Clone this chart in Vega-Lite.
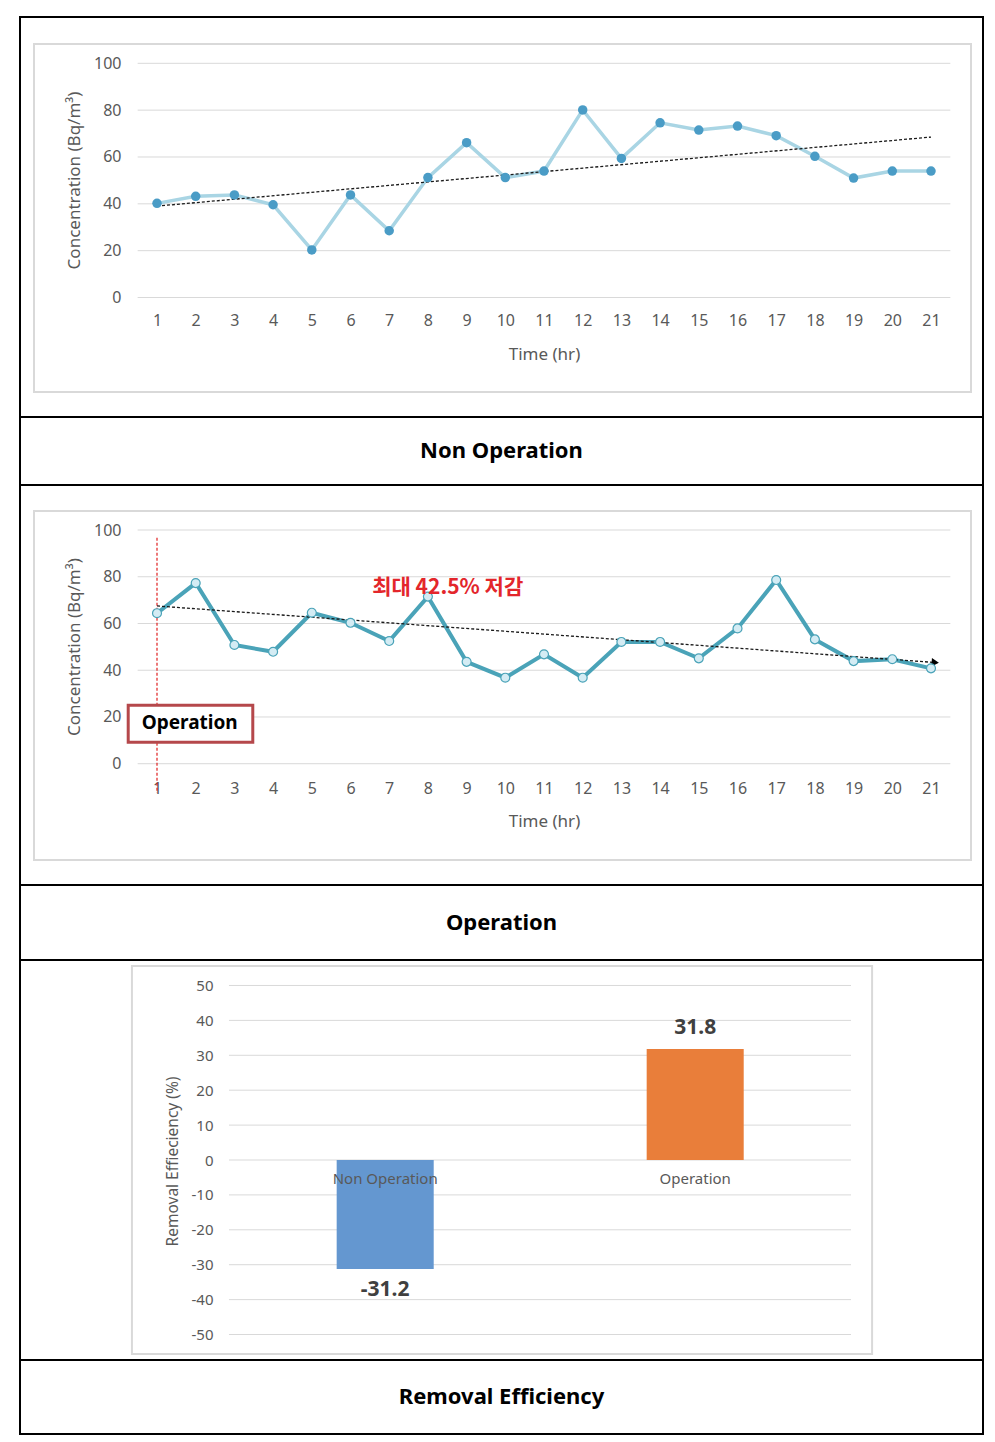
{
  "$schema": "https://vega.github.io/schema/vega-lite/v6.json",
  "padding": {"left": 19, "top": 16, "right": 13, "bottom": 9},
  "autosize": {"type": "pad"},
  "background": "white",
  "spacing": 0,
  "bounds": "flush",
  "config": {
    "view": {"stroke": "#000000", "strokeWidth": 2},
    "font": "Noto Sans",
    "concat": {"spacing": 0},
    "locale": {"number": {"decimal": ".", "thousands": ",", "grouping": [3], "currency": ["", ""], "minus": "-"}},
    "axis": {"labelFont": "Noto Sans", "titleFont": "Noto Sans", "labelColor": "#595959", "titleColor": "#595959", "titleFontWeight": "normal", "domain": false, "ticks": false, "grid": false, "labelOverlap": false}
  },
  "datasets": {
    "nonop": [
      {"hour": 1, "conc": 40.2}, {"hour": 2, "conc": 43.2}, {"hour": 3, "conc": 43.8}, {"hour": 4, "conc": 39.6},
      {"hour": 5, "conc": 20.3}, {"hour": 6, "conc": 43.8}, {"hour": 7, "conc": 28.5}, {"hour": 8, "conc": 51.2},
      {"hour": 9, "conc": 66.1}, {"hour": 10, "conc": 51.2}, {"hour": 11, "conc": 54.0}, {"hour": 12, "conc": 80.1},
      {"hour": 13, "conc": 59.4}, {"hour": 14, "conc": 74.6}, {"hour": 15, "conc": 71.5}, {"hour": 16, "conc": 73.2},
      {"hour": 17, "conc": 69.1}, {"hour": 18, "conc": 60.3}, {"hour": 19, "conc": 51.0}, {"hour": 20, "conc": 54.0},
      {"hour": 21, "conc": 54.0}
    ],
    "op": [
      {"hour": 1, "conc": 64.4}, {"hour": 2, "conc": 77.3}, {"hour": 3, "conc": 50.8}, {"hour": 4, "conc": 47.9},
      {"hour": 5, "conc": 64.6}, {"hour": 6, "conc": 60.3}, {"hour": 7, "conc": 52.5}, {"hour": 8, "conc": 71.5},
      {"hour": 9, "conc": 43.6}, {"hour": 10, "conc": 36.8}, {"hour": 11, "conc": 46.8}, {"hour": 12, "conc": 36.8},
      {"hour": 13, "conc": 52.1}, {"hour": 14, "conc": 52.1}, {"hour": 15, "conc": 45.1}, {"hour": 16, "conc": 57.9},
      {"hour": 17, "conc": 78.6}, {"hour": 18, "conc": 53.2}, {"hour": 19, "conc": 43.9}, {"hour": 20, "conc": 44.7},
      {"hour": 21, "conc": 40.8}
    ],
    "trend2": [{"hour": 1, "conc": 67.5}, {"hour": 21.11, "conc": 43.3}],
    "eff": [{"condition": "Non Operation", "eff": -31.2}, {"condition": "Operation", "eff": 31.8}],
    "grid100": [{"g": 0}, {"g": 20}, {"g": 40}, {"g": 60}, {"g": 80}, {"g": 100}],
    "grid50": [{"g": -50}, {"g": -40}, {"g": -30}, {"g": -20}, {"g": -10}, {"g": 0}, {"g": 10}, {"g": 20}, {"g": 30}, {"g": 40}, {"g": 50}]
  },
  "vconcat": [
    {
      "width": 963,
      "height": 400,
      "data": {"name": "nonop"},
      "layer": [
        {
          "data": {"values": [{}]},
          "mark": {"type": "rect", "filled": false, "stroke": "#d9d9d9", "strokeWidth": 2},
          "encoding": {
            "x": {"datum": -2.178, "type": "quantitative"},
            "x2": {"datum": 22.034},
            "y": {"datum": 108.24, "type": "quantitative"},
            "y2": {"datum": -40.35}
          }
        },
        {
          "data": {"name": "grid100"},
          "mark": {"type": "rule", "color": "#d9d9d9", "strokeWidth": 1},
          "encoding": {
            "y": {"field": "g", "type": "quantitative"},
            "x": {"datum": 0.5, "type": "quantitative"},
            "x2": {"datum": 21.5}
          }
        },
        {
          "mark": {"type": "line", "color": "#a9d5e4", "strokeWidth": 3.5},
          "encoding": {
            "x": {"field": "hour", "type": "quantitative",
              "scale": {"domain": [-2.5401, 22.3437], "nice": false, "zero": false},
              "axis": {"values": [1,2,3,4,5,6,7,8,9,10,11,12,13,14,15,16,17,18,19,20,21], "tickCount": 30, "format": "d", "labelFontSize": 16, "labelPadding": 15, "offset": -119.5, "labelOverlap": false, "labelFlush": false,
                "title": "Time (hr)", "titleFontSize": 17, "titleX": 524, "titleY": 57, "titleBaseline": "middle", "titleAlign": "center"}},
            "y": {"field": "conc", "type": "quantitative",
              "scale": {"domain": [-51.02, 119.77], "nice": false, "zero": false},
              "axis": {"values": [0, 20, 40, 60, 80, 100], "tickCount": 12, "labelFontSize": 16, "labelPadding": 3, "offset": -104, "labelOverlap": false,
                "title": "Concentration (Bq/m³)", "titleFontSize": 17, "titleX": -50, "titleY": 163, "titleBaseline": "middle", "titleAngle": -90, "titleAlign": "center"}}
          }
        },
        {
          "transform": [{"regression": "conc", "on": "hour", "extent": [1, 21]}],
          "mark": {"type": "line", "color": "#1a1a1a", "strokeWidth": 1.3, "strokeDash": [3, 2]},
          "encoding": {
            "x": {"field": "hour", "type": "quantitative"},
            "y": {"field": "conc", "type": "quantitative"}
          }
        },
        {
          "mark": {"type": "point", "filled": true, "color": "#4a9cc6", "size": 90, "opacity": 1},
          "encoding": {
            "x": {"field": "hour", "type": "quantitative"},
            "y": {"field": "conc", "type": "quantitative"}
          }
        }
      ]
    },
    {
      "width": 963,
      "height": 68,
      "data": {"values": [{"label": "Non Operation"}]},
      "mark": {"type": "text", "fontSize": 22, "fontWeight": "bold", "font": "Noto Sans", "color": "#000000", "align": "center", "baseline": "middle"},
      "encoding": {
        "text": {"field": "label"},
        "x": {"datum": 0.5, "type": "quantitative", "scale": {"domain": [0, 1]}, "axis": null},
        "y": {"datum": 0.5, "type": "quantitative", "scale": {"domain": [0, 1]}, "axis": null}
      }
    },
    {
      "width": 963,
      "height": 400,
      "data": {"name": "op"},
      "layer": [
        {
          "data": {"values": [{}]},
          "mark": {"type": "rect", "filled": false, "stroke": "#d9d9d9", "strokeWidth": 2},
          "encoding": {
            "x": {"datum": -2.178, "type": "quantitative"},
            "x2": {"datum": 22.034},
            "y": {"datum": 108.13, "type": "quantitative"},
            "y2": {"datum": -41.21}
          }
        },
        {
          "data": {"name": "grid100"},
          "mark": {"type": "rule", "color": "#d9d9d9", "strokeWidth": 1},
          "encoding": {
            "y": {"field": "g", "type": "quantitative"},
            "x": {"datum": 0.5, "type": "quantitative"},
            "x2": {"datum": 21.5}
          }
        },
        {
          "data": {"values": [{}]},
          "mark": {"type": "rule", "color": "#e02020", "strokeWidth": 1.2, "strokeDash": [3, 2]},
          "encoding": {
            "x": {"datum": 1, "type": "quantitative"},
            "y": {"datum": 96.7, "type": "quantitative"},
            "y2": {"datum": -12.5}
          }
        },
        {
          "mark": {"type": "line", "color": "#4aa3b8", "strokeWidth": 4},
          "encoding": {
            "x": {"field": "hour", "type": "quantitative",
              "scale": {"domain": [-2.5401, 22.3437], "nice": false, "zero": false},
              "axis": {"values": [1,2,3,4,5,6,7,8,9,10,11,12,13,14,15,16,17,18,19,20,21], "tickCount": 30, "format": "d", "labelFontSize": 16, "labelPadding": 17, "offset": -121.3, "labelOverlap": false, "labelFlush": false,
                "title": "Time (hr)", "titleFontSize": 17, "titleX": 524, "titleY": 58, "titleBaseline": "middle", "titleAlign": "center"}},
            "y": {"field": "conc", "type": "quantitative",
              "scale": {"domain": [-51.9, 119.26], "nice": false, "zero": false},
              "axis": {"values": [0, 20, 40, 60, 80, 100], "tickCount": 12, "labelFontSize": 16, "labelPadding": 3, "offset": -104, "labelOverlap": false,
                "title": "Concentration (Bq/m³)", "titleFontSize": 17, "titleX": -50, "titleY": 161.6, "titleBaseline": "middle", "titleAngle": -90, "titleAlign": "center"}}
          }
        },
        {
          "data": {"name": "trend2"},
          "mark": {"type": "line", "color": "#1a1a1a", "strokeWidth": 1.3, "strokeDash": [3, 2]},
          "encoding": {
            "x": {"field": "hour", "type": "quantitative"},
            "y": {"field": "conc", "type": "quantitative"}
          }
        },
        {
          "data": {"name": "trend2"},
          "transform": [{"filter": "datum.hour > 20"}],
          "mark": {"type": "point", "shape": "triangle-right", "filled": true, "color": "#000000", "size": 70, "angle": 4, "opacity": 1},
          "encoding": {
            "x": {"field": "hour", "type": "quantitative"},
            "y": {"field": "conc", "type": "quantitative"}
          }
        },
        {
          "mark": {"type": "point", "filled": true, "fill": "#d4ecf4", "stroke": "#4aa3b8", "strokeWidth": 1.2, "size": 80, "opacity": 1},
          "encoding": {
            "x": {"field": "hour", "type": "quantitative"},
            "y": {"field": "conc", "type": "quantitative"}
          }
        },
        {
          "data": {"values": [{}]},
          "mark": {"type": "rect", "fill": "#ffffff", "stroke": "#b5484b", "strokeWidth": 3},
          "encoding": {
            "x": {"datum": 0.256, "type": "quantitative"},
            "x2": {"datum": 3.475},
            "y": {"datum": 25.03, "type": "quantitative"},
            "y2": {"datum": 9.2}
          }
        },
        {
          "data": {"values": [{"label": "Operation"}]},
          "mark": {"type": "text", "fontSize": 19, "fontWeight": "bold", "font": "Noto Sans", "color": "#000000", "align": "center", "baseline": "middle"},
          "encoding": {
            "text": {"field": "label"},
            "x": {"datum": 1.845, "type": "quantitative"},
            "y": {"datum": 17.29, "type": "quantitative"}
          }
        },
        {
          "data": {"values": [{"label": "최대 42.5% 저감"}]},
          "mark": {"type": "text", "fontSize": 21, "fontWeight": "bold", "font": "Noto Sans CJK KR", "color": "#e3262b", "align": "center", "baseline": "middle"},
          "encoding": {
            "text": {"field": "label"},
            "x": {"datum": 8.512, "type": "quantitative"},
            "y": {"datum": 75.31, "type": "quantitative"}
          }
        }
      ]
    },
    {
      "width": 963,
      "height": 75,
      "data": {"values": [{"label": "Operation"}]},
      "mark": {"type": "text", "fontSize": 22, "fontWeight": "bold", "font": "Noto Sans", "color": "#000000", "align": "center", "baseline": "middle"},
      "encoding": {
        "text": {"field": "label"},
        "x": {"datum": 0.5, "type": "quantitative", "scale": {"domain": [0, 1]}, "axis": null},
        "y": {"datum": 0.5, "type": "quantitative", "scale": {"domain": [0, 1]}, "axis": null}
      }
    },
    {
      "width": 963,
      "height": 400,
      "data": {"name": "eff"},
      "layer": [
        {
          "data": {"values": [{}]},
          "mark": {"type": "rect", "filled": false, "stroke": "#d9d9d9", "strokeWidth": 2},
          "encoding": {
            "x": {"datum": "Non Operation", "type": "nominal", "bandPosition": -2.11},
            "x2": {"datum": "Operation", "bandPosition": 2.323},
            "y": {"datum": 55.6, "type": "quantitative"},
            "y2": {"datum": -55.6}
          }
        },
        {
          "data": {"name": "grid50"},
          "mark": {"type": "rule", "color": "#d9d9d9", "strokeWidth": 1},
          "encoding": {
            "y": {"field": "g", "type": "quantitative"},
            "x": {"datum": "Non Operation", "type": "nominal", "bandPosition": -1.11},
            "x2": {"datum": "Operation", "bandPosition": 2.106}
          }
        },
        {
          "mark": {"type": "bar"},
          "encoding": {
            "x": {"field": "condition", "type": "nominal",
              "scale": {"domain": ["Non Operation", "Operation"], "paddingInner": 0.687, "paddingOuter": 0.8967, "align": 0.5696},
              "axis": {"orient": "bottom", "offset": -200, "labelPadding": 18, "labelFontSize": 15, "labelAngle": 0, "title": null, "zindex": 1, "bandPosition": 0.5, "labelAlign": "center"}},
            "y": {"field": "eff", "type": "quantitative",
              "scale": {"domain": [-57.3, 57.3], "nice": false, "zero": false},
              "axis": {"values": [-50, -40, -30, -20, -10, 0, 10, 20, 30, 40, 50], "tickCount": 12, "labelFontSize": 15, "labelPadding": 2, "offset": -195, "labelOverlap": false,
                "title": "Removal Effieciency (%)", "titleFontSize": 15.5, "titleX": -43, "titleY": 201, "titleBaseline": "middle", "titleAngle": -90, "titleAlign": "center"}},
            "color": {"field": "condition", "type": "nominal",
              "scale": {"domain": ["Non Operation", "Operation"], "range": ["#6497d0", "#e97e3a"]}, "legend": null}
          }
        },
        {
          "transform": [{"filter": "datum.eff < 0"}],
          "mark": {"type": "text", "fontSize": 21, "fontWeight": "bold", "font": "Noto Sans", "color": "#404040", "align": "center", "baseline": "middle", "dy": 21},
          "encoding": {
            "x": {"field": "condition", "type": "nominal"},
            "y": {"field": "eff", "type": "quantitative"},
            "text": {"field": "eff", "type": "quantitative", "format": ".1f"}
          }
        },
        {
          "transform": [{"filter": "datum.eff >= 0"}],
          "mark": {"type": "text", "fontSize": 21, "fontWeight": "bold", "font": "Noto Sans", "color": "#404040", "align": "center", "baseline": "middle", "dy": -21},
          "encoding": {
            "x": {"field": "condition", "type": "nominal"},
            "y": {"field": "eff", "type": "quantitative"},
            "text": {"field": "eff", "type": "quantitative", "format": ".1f"}
          }
        }
      ]
    },
    {
      "width": 963,
      "height": 74,
      "data": {"values": [{"label": "Removal Efficiency"}]},
      "mark": {"type": "text", "fontSize": 22, "fontWeight": "bold", "font": "Noto Sans", "color": "#000000", "align": "center", "baseline": "middle"},
      "encoding": {
        "text": {"field": "label"},
        "x": {"datum": 0.5, "type": "quantitative", "scale": {"domain": [0, 1]}, "axis": null},
        "y": {"datum": 0.5, "type": "quantitative", "scale": {"domain": [0, 1]}, "axis": null}
      }
    }
  ]
}
